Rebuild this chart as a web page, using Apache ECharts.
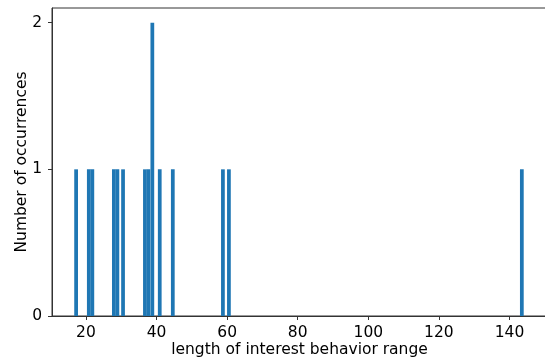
<!DOCTYPE html>
<html>
<head>
<meta charset="utf-8">
<script src="https://cdn.jsdelivr.net/npm/echarts@6/dist/echarts.min.js"></script>
<style>
html,body{margin:0;padding:0;background:#fff;}
#chart{width:545px;height:361px;}
</style>
</head>
<body>
<div id="chart"></div>
<script>
// Histogram bins (centre of each non-empty bin) and their counts
var binCenters = [17.2, 20.8, 21.8, 27.9, 28.9, 30.5, 36.7, 37.7, 38.8, 40.9, 44.6, 58.8, 60.5, 143.5];
var counts     = [1,    1,    1,    1,    1,    1,    1,    1,    2,    1,    1,    1,    1,    1];
var binWidth = 1.06;
var xTicks = [20, 40, 60, 80, 100, 120, 140];
var yTicks = [0, 1, 2];
var xTitle = 'length of interest behavior range';
var yTitle = 'Number of occurrences';

var data = binCenters.map(function (c, i) { return [c, counts[i]]; });
var font = 'DejaVu Sans';

var chart = echarts.init(document.getElementById('chart'), null, {renderer: 'canvas'});
chart.setOption({
  animation: false,
  backgroundColor: '#fff',
  grid: {left: 52, right: -2, top: 8, bottom: 45, containLabel: false, outerBoundsMode: 'none',
         show: true, borderColor: '#333', borderWidth: 1, backgroundColor: 'transparent'},
  xAxis: {
    type: 'value', min: 10.37, max: 150.63,
    name: xTitle, nameLocation: 'middle', nameGap: 26, nameMoveOverlap: false,
    nameTextStyle: {fontFamily: font, fontSize: 15.5, color: '#000'},
    axisLine: {show: true, onZero: false, lineStyle: {color: '#333', width: 1}},
    axisTick: {show: true, length: 4, inside: false, customValues: xTicks, lineStyle: {color: '#333'}},
    axisLabel: {customValues: xTicks, margin: 9, fontFamily: font, fontSize: 15.5, color: '#000'},
    splitLine: {show: false}
  },
  yAxis: {
    type: 'value', min: 0, max: 2.1,
    name: yTitle, nameLocation: 'middle', nameGap: 22, nameRotate: 90, nameMoveOverlap: false,
    nameTextStyle: {fontFamily: font, fontSize: 15.5, color: '#000'},
    axisLine: {show: true, lineStyle: {color: '#333', width: 1}},
    axisTick: {show: true, length: 4, customValues: yTicks, lineStyle: {color: '#333'}},
    axisLabel: {customValues: yTicks, margin: 10, fontFamily: font, fontSize: 15.5, color: '#000'},
    splitLine: {show: false}
  },
  series: [{
    type: 'custom',
    data: data,
    clip: true,
    renderItem: function (params, api) {
      var c = api.value(0), v = api.value(1);
      var p0 = api.coord([c - binWidth / 2, 0]);
      var p1 = api.coord([c + binWidth / 2, v]);
      return {
        type: 'rect',
        shape: {x: p0[0], y: p1[1], width: p1[0] - p0[0], height: p0[1] - p1[1]},
        style: {fill: '#1f77b4'}
      };
    },
    encode: {x: 0, y: 1}
  }]
});
</script>
</body>
</html>
